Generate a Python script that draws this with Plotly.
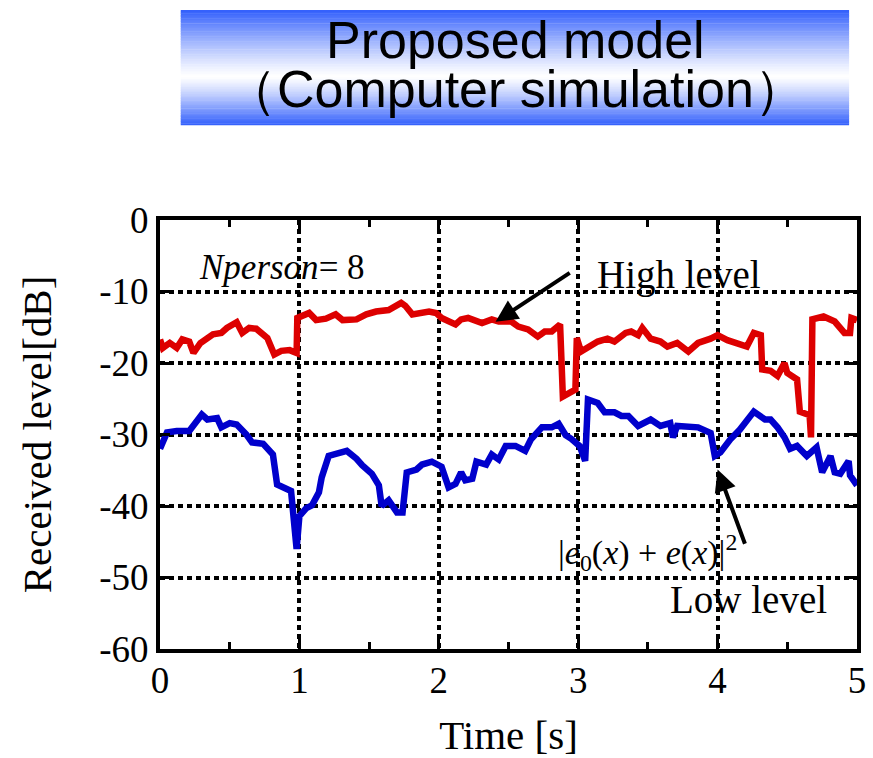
import plotly.graph_objects as go

# ---- data ----
red_t = [0.0, 0.02, 0.07, 0.12, 0.16, 0.21, 0.24, 0.29, 0.38, 0.44, 0.48, 0.55, 0.59, 0.64, 0.69, 0.74, 0.77,
         0.82, 0.87, 0.93, 0.98, 0.985, 1.07, 1.12, 1.19, 1.26, 1.31, 1.41, 1.48, 1.55, 1.64, 1.73, 1.76,
         1.81, 1.86, 1.93, 1.98, 2.02, 2.12, 2.16, 2.21, 2.31, 2.38, 2.43, 2.52, 2.57, 2.64, 2.71, 2.76,
         2.81, 2.87, 2.89, 2.98, 2.99, 3.02, 3.07, 3.14, 3.21, 3.26, 3.34, 3.38, 3.43, 3.46, 3.52, 3.59,
         3.64, 3.71, 3.79, 3.86, 3.95, 4.0, 4.07, 4.14, 4.21, 4.26, 4.31, 4.32, 4.38, 4.43, 4.48, 4.5,
         4.57, 4.59, 4.66, 4.67, 4.68, 4.76, 4.84, 4.91, 4.95, 4.96, 5.0]
red_v = [-16.7, -17.9, -17.2, -17.9, -16.7, -17.0, -18.6, -17.2, -16.0, -15.8, -15.1, -14.3, -15.8, -15.1, -15.2,
         -16.0, -16.5, -18.8, -18.3, -18.2, -18.6, -13.7, -13.0, -14.0, -13.8, -13.2, -14.0, -13.9, -13.2,
         -12.8, -12.6, -11.6, -12.0, -13.2, -13.0, -12.8, -13.0, -13.7, -14.6, -13.9, -13.7, -14.4, -13.9,
         -14.2, -14.2, -14.9, -15.3, -16.3, -15.6, -15.6, -14.6, -24.7, -23.7, -16.5, -18.4, -17.7, -17.0,
         -16.6, -17.0, -15.8, -15.6, -16.1, -15.1, -16.6, -17.0, -17.7, -17.2, -18.4, -17.2, -16.6, -16.1,
         -16.8, -17.2, -17.7, -15.8, -16.1, -20.9, -21.1, -21.8, -20.0, -21.4, -22.3, -26.8, -27.3, -30.4,
         -13.9, -13.5, -14.2, -15.8, -15.8, -13.7, -14.0]
blue_t = [0.0, 0.05, 0.12, 0.21, 0.30, 0.34, 0.41, 0.44, 0.50, 0.55, 0.62, 0.66, 0.74, 0.81, 0.84, 0.91, 0.94,
          0.98, 1.00, 1.05, 1.09, 1.14, 1.16, 1.21, 1.29, 1.34, 1.41, 1.45, 1.52, 1.57, 1.59, 1.64, 1.70,
          1.74, 1.77, 1.84, 1.88, 1.95, 2.02, 2.07, 2.12, 2.16, 2.19, 2.24, 2.27, 2.34, 2.38, 2.43, 2.48,
          2.55, 2.62, 2.66, 2.74, 2.81, 2.86, 2.91, 2.95, 3.01, 3.05, 3.07, 3.14, 3.19, 3.26, 3.31, 3.36,
          3.43, 3.52, 3.59, 3.66, 3.68, 3.71, 3.79, 3.86, 3.95, 3.98, 4.02, 4.09, 4.16, 4.21, 4.26, 4.34,
          4.38, 4.43, 4.48, 4.52, 4.57, 4.64, 4.71, 4.75, 4.81, 4.84, 4.88, 4.94, 4.95, 5.0]
blue_v = [-32.0, -29.7, -29.5, -29.5, -27.2, -27.9, -27.7, -29.0, -28.4, -28.6, -30.0, -31.1, -31.3, -32.8,
          -37.0, -37.5, -37.9, -46.0, -41.4, -40.3, -39.9, -38.1, -36.0, -33.0, -32.7, -32.3, -33.4, -34.3,
          -35.5, -37.1, -40.0, -39.2, -40.9, -40.9, -35.3, -34.9, -34.2, -33.8, -34.5, -37.4, -36.9, -35.3,
          -36.4, -36.2, -33.8, -34.2, -32.8, -33.5, -31.6, -31.6, -32.3, -30.7, -29.0, -29.0, -28.5, -30.1,
          -30.6, -31.6, -33.7, -25.1, -25.6, -26.9, -26.9, -27.4, -27.4, -28.8, -27.9, -28.8, -28.4, -30.4,
          -28.8, -28.8, -29.0, -29.8, -33.0, -32.5, -30.7, -29.3, -27.9, -26.8, -27.9, -27.9, -29.0, -30.4,
          -32.0, -31.6, -33.0, -31.8, -35.3, -33.0, -35.3, -35.5, -33.7, -35.7, -37.1]
x_ticks = [0, 1, 2, 3, 4, 5]
y_ticks = [0, -10, -20, -30, -40, -50, -60]

W, H = 873, 758
L, R, T, B = 160, 7, 220, 108


def px(xp):  # page pixel x -> paper
    return (xp - L) / (W - L - R)


def py(yp):  # page pixel y -> paper
    return (H - B - yp) / (H - T - B)


def dx(xp):  # reference pixel x (plot spans 160..860) -> data x
    return (xp - 160) / 700 * 5


def dy(yp):  # page pixel y -> data y
    return -(yp - T) / (H - T - B) * 60


fig = go.Figure()
fig.add_trace(go.Scatter(x=blue_t, y=blue_v, mode="lines",
                         line=dict(color="#0000cc", width=6.5), showlegend=False))
fig.add_trace(go.Scatter(x=red_t, y=red_v, mode="lines",
                         line=dict(color="#dd0000", width=6.5), showlegend=False))

# gradient banner
shapes = []
top, bot = 10, 125
N = 70
c_blue = (50, 95, 252)
for i in range(N):
    y0 = top + (bot - top) * i / N
    y1 = top + (bot - top) * (i + 1) / N
    f = (i + 0.5) / N
    c = 0.58
    d = (c - f) / c if f < c else (f - c) / (1 - c)
    d = min(1.0, max(0.0, d)) ** 1.2
    col = tuple(int(round(255 + (cc - 255) * d)) for cc in c_blue)
    shapes.append(dict(type="rect", xref="paper", yref="paper",
                       x0=px(181), x1=px(858), y0=py(y1), y1=py(y0) + 0.001,
                       fillcolor="rgb(%d,%d,%d)" % col, line=dict(width=0), layer="below"))

serif = "Liberation Serif, Times New Roman, serif"
sans = "Liberation Sans, Arial, sans-serif"
ann = [
    dict(x=px(520), y=py(40), xref="paper", yref="paper", text="Proposed model", yanchor="middle",
         showarrow=False, font=dict(family=sans, size=52, color="black")),
    dict(x=px(520), y=py(89), xref="paper", yref="paper", text="（Computer simulation）", yanchor="middle",
         showarrow=False, font=dict(family=sans, size=52, color="black")),
    dict(x=dx(197), y=dy(268), text="<i>Nperson</i>= 8", showarrow=False, yanchor="middle",
         xanchor="left", font=dict(family=serif, size=35, color="black")),
    dict(x=dx(597), y=dy(275), text="High level", showarrow=False, xanchor="left", yanchor="middle",
         font=dict(family=serif, size=39, color="black")),
    dict(x=dx(670), y=dy(600), text="Low level", showarrow=False, xanchor="left", yanchor="middle",
         font=dict(family=serif, size=39, color="black")),
    dict(x=dx(558), y=dy(553), xanchor="left", yanchor="middle", showarrow=False,
         text="|<i>e</i><sub>0</sub>(<i>x</i>) + <i>e</i>(<i>x</i>)|<sup>2</sup>",
         font=dict(family=serif, size=34, color="black")),
    dict(x=dx(497), y=dy(322), ax=dx(573), ay=dy(272), axref="x", ayref="y", text="", showarrow=True,
         arrowhead=2, arrowsize=1.1, arrowwidth=4, arrowcolor="black"),
    dict(x=dx(720), y=dy(470), ax=dx(748), ay=dy(546), axref="x", ayref="y", text="", showarrow=True,
         arrowhead=2, arrowsize=1.1, arrowwidth=4, arrowcolor="black"),
]

axis_common = dict(showline=True, linecolor="black", linewidth=4, mirror="ticks",
                   showgrid=True, gridcolor="black", gridwidth=4, griddash="5px,4px",
                   ticks="inside", ticklen=10, tickwidth=3, tickcolor="black",
                   zeroline=False, tickfont=dict(family=serif, size=37, color="black"))

fig.update_layout(
    width=W, height=H, margin=dict(l=L, r=R, t=T, b=B),
    paper_bgcolor="white", plot_bgcolor="white",
    shapes=shapes, annotations=ann,
    xaxis=dict(range=[0, 5], tickvals=x_ticks, ticktext=[str(v) for v in x_ticks],
               title=dict(text="Time [s]", font=dict(family=serif, size=41, color="black"), standoff=21),
               ticklabelstandoff=-4,
               minor=dict(ticks="inside", dtick=0.5, ticklen=7, tickwidth=3, tickcolor="black", showgrid=False),
               **axis_common),
    yaxis=dict(range=[-60, 0], tickvals=y_ticks, ticktext=[str(v) for v in y_ticks],
               title=dict(text="Received level[dB]", font=dict(family=serif, size=41, color="black"), standoff=36),
               **axis_common),
)

fig.write_html("out.html", config={"displayModeBar": False},
               post_script="document.body.style.margin='0';document.body.style.overflow='hidden';")
